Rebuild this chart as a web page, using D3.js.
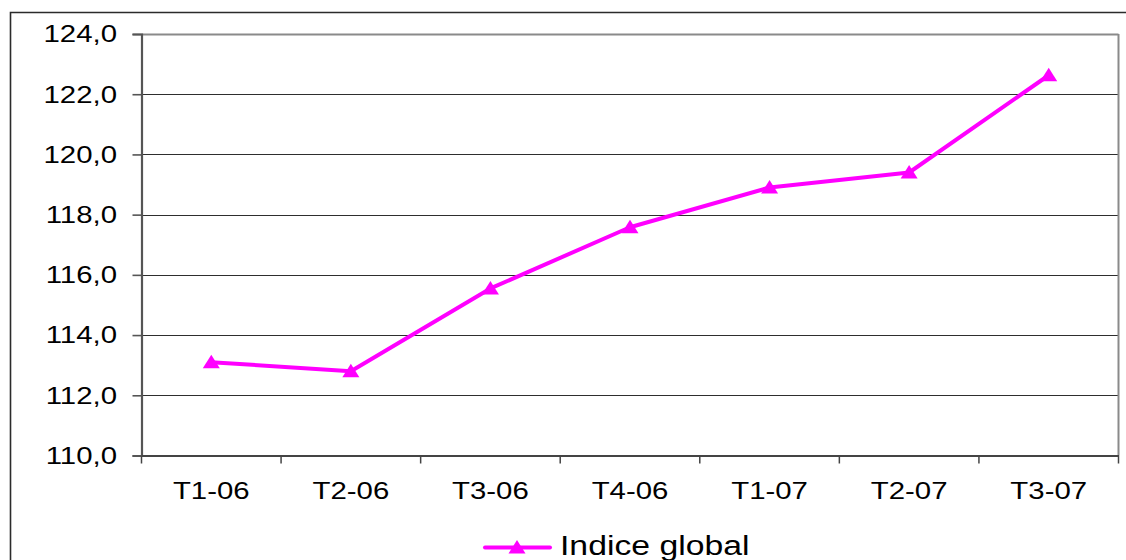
<!DOCTYPE html>
<html><head><meta charset="utf-8">
<script src="https://cdn.jsdelivr.net/npm/d3@7"></script>
<style>html,body{margin:0;padding:0;background:#fff;}svg{display:block;}</style>
</head><body>
<script>
const categories = ["T1-06","T2-06","T3-06","T4-06","T1-07","T2-07","T3-07"];
const values = [113.1, 112.8, 115.55, 117.58, 118.9, 119.4, 122.63];
const yTicks = [110,112,114,116,118,120,122,124];
const seriesName = "Indice global";

const W = 1126, H = 560;
const M = {left:141.5, right:1118.5, top:34, bottom:455.5};
const svg = d3.select("body").append("svg").attr("width",W).attr("height",H);

// outer frame
svg.append("path").attr("d",`M10.5,${H+5} L10.5,12.5 L${W+5},12.5`)
  .attr("fill","none").attr("stroke","#2b2b2b").attr("stroke-width",1.6);

const x = d3.scaleBand().domain(categories).range([M.left,M.right]);
const y = d3.scaleLinear().domain([110,124]).range([M.bottom,M.top]);
const fmt = v => d3.format(".1f")(v).replace(".",",");
const SX = 1.25;
const font = "'Liberation Sans', Arial, sans-serif";

// gridlines
svg.append("g").selectAll("line").data(yTicks.filter(t=>t>110)).join("line")
  .attr("x1",M.left).attr("x2",M.right)
  .attr("y1",d=>Math.round(y(d))+0.5).attr("y2",d=>Math.round(y(d))+0.5)
  .attr("stroke",d=>d===124?"#8a8a8a":"#2e2e2e").attr("stroke-width",d=>d===124?2:1.2);

// plot border right
svg.append("line").attr("x1",M.right).attr("x2",M.right).attr("y1",M.top).attr("y2",M.bottom)
  .attr("stroke","#8a8a8a").attr("stroke-width",2);

// y axis
const yAxisG = svg.append("g").attr("transform",`translate(${M.left},0)`)
  .call(d3.axisLeft(y).tickValues(yTicks).tickSize(9).tickFormat(""));
yAxisG.select(".domain").attr("stroke","#555").attr("stroke-width",2.2);
yAxisG.selectAll(".tick line").attr("stroke","#555").attr("stroke-width",1.6);
svg.append("g").selectAll("g").data(yTicks).join("g")
  .attr("transform",d=>`translate(117,${y(d)+8.3}) scale(${SX},1)`)
  .append("text").attr("text-anchor","end").attr("font-family",font)
  .attr("font-size",23.5).attr("fill","#000").text(fmt);

// x axis
const xAxisG = svg.append("g").attr("transform",`translate(0,${M.bottom})`)
  .call(d3.axisBottom(x).tickSize(0).tickFormat(""));
xAxisG.select(".domain").attr("stroke","#444").attr("stroke-width",2);
xAxisG.selectAll(".tick").remove();
const bounds = categories.map(c=>x(c)).concat([M.right]);
svg.append("g").selectAll("line").data(bounds).join("line")
  .attr("x1",d=>d).attr("x2",d=>d).attr("y1",M.bottom).attr("y2",M.bottom+8)
  .attr("stroke","#444").attr("stroke-width",1.5);
svg.append("g").selectAll("g").data(categories).join("g")
  .attr("transform",d=>`translate(${x(d)+x.bandwidth()/2},499) scale(${SX},1)`)
  .append("text").attr("text-anchor","middle").attr("font-family",font)
  .attr("font-size",23.5).attr("fill","#000").text(d=>d);

// series
const color = "#ff00ff";
const pts = categories.map((c,i)=>({x:x(c)+x.bandwidth()/2, y:y(values[i])}));
svg.append("path").datum(pts)
  .attr("d",d3.line().x(d=>d.x).y(d=>d.y))
  .attr("fill","none").attr("stroke",color).attr("stroke-width",4).attr("stroke-linejoin","round");
const tri = (cx,cy)=>`M${cx},${cy-7.5} L${cx+8.5},${cy+6} L${cx-8.5},${cy+6} Z`;
svg.append("g").selectAll("path").data(pts).join("path")
  .attr("d",d=>tri(d.x,d.y)).attr("fill",color);

// legend
svg.append("line").attr("x1",485).attr("x2",550).attr("y1",547.5).attr("y2",547.5)
  .attr("stroke",color).attr("stroke-width",4).attr("stroke-linecap","round");
svg.append("path").attr("d",tri(517,547.5)).attr("fill",color);
svg.append("g").attr("transform",`translate(560,555) scale(${SX},1)`)
  .append("text").attr("font-family",font).attr("font-size",27).attr("fill","#000").text(seriesName);
</script>
</body></html>
